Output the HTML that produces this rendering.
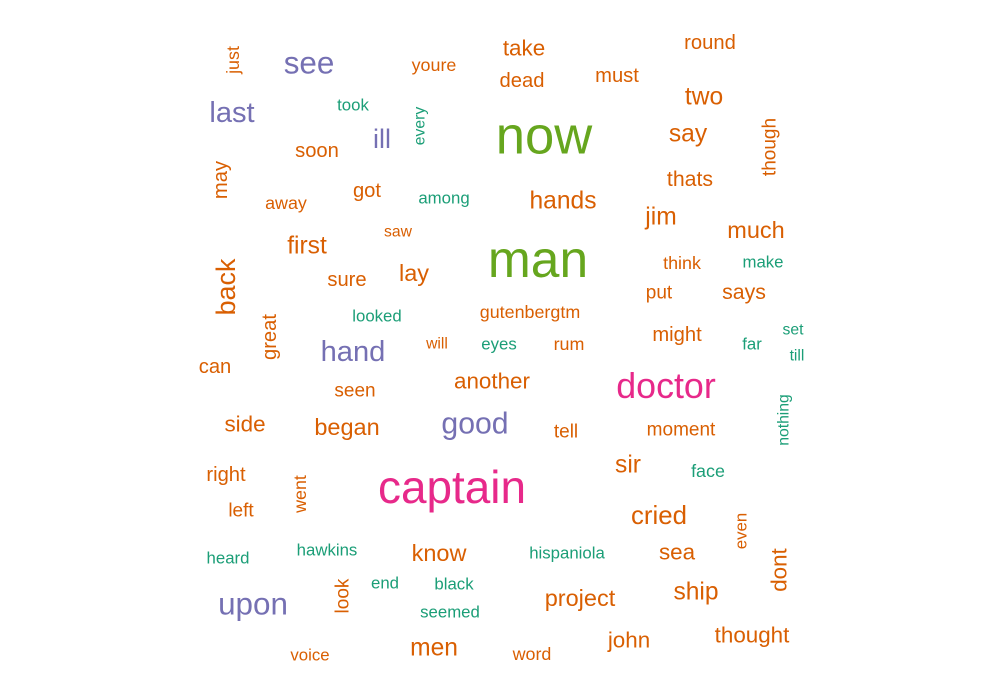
<!DOCTYPE html>
<html>
<head>
<meta charset="utf-8">
<style>
html,body{margin:0;padding:0;background:#fff;}
svg{display:block;}
text{font-family:"Liberation Sans",Arial,sans-serif;}
</style>
</head>
<body>
<svg id="cloud" width="1000" height="693" xmlns="http://www.w3.org/2000/svg"></svg>
<script>
// word cloud data
const words = ["just","see","youre","take","round","dead","must","two","last","took","every","now","say","though","ill","soon","may","thats","got","away","among","hands","jim","much","first","saw","man","back","think","make","lay","sure","put","says","gutenbergtm","looked","great","might","set","hand","will","eyes","rum","far","till","can","seen","another","doctor","nothing","side","began","good","tell","moment","sir","face","right","went","captain","left","cried","even","heard","hawkins","know","hispaniola","sea","dont","end","black","look","upon","project","ship","seemed","john","thought","men","voice","word"];
const freqs = [16,28,16,20,18,18,18,22,26,15,14,47,22,17,24,18,18,19,18,16,15,22,22,21,22,14,46,24,16,15,21,18,17,19,16,15,18,18,14,26,14,15,16,15,14,18,17,20,32,14,20,21,27,17,17,22,16,18,16,41,17,23,15,15,15,21,15,20,20,15,15,17,28,21,22,15,20,20,22,15,16];
const groups = ["o","p","o","o","o","o","o","o","p","t","t","g","o","o","p","o","o","o","o","o","t","o","o","o","o","o","g","o","o","t","o","o","o","o","o","t","o","o","t","p","o","t","o","t","t","o","o","o","k","t","o","o","p","o","o","o","t","o","o","k","o","o","o","t","t","o","t","o","o","t","t","o","p","o","o","t","o","o","o","o","o"];
// layout (positions, rotation)
const layout = [[233,60,1],[309,63,0],[434,65,0],[524,48,0],[710,43,0],[522,81,0],[617,76,0],[704,97,0],[232,113,0],[353,105,0],[420,126,1],[544,136,0],[688,134,0],[770,147,1],[382,139,0],[317,151,0],[221,180,1],[690,179,0],[367,191,0],[286,203,0],[444,198,0],[563,201,0],[661,217,0],[756,230,0],[307,246,0],[398,232,0],[538,259,0],[226,287,1],[682,263,0],[763,262,0],[414,273,0],[347,280,0],[659,293,0],[744,292,0],[530,312,0],[377,316,0],[270,337,1],[677,335,0],[793,330,0],[353,352,0],[437,344,0],[499,344,0],[569,344,0],[752,344,0],[797,356,0],[215,367,0],[355,391,0],[492,381,0],[666,386,0],[784,420,1],[245,424,0],[347,427,0],[475,424,0],[566,432,0],[681,430,0],[628,465,0],[708,471,0],[226,475,0],[300,494,1],[452,487,0],[241,511,0],[659,516,0],[741,531,1],[228,558,0],[327,550,0],[439,553,0],[567,553,0],[677,552,0],[779,570,1],[385,583,0],[454,584,0],[343,596,1],[253,604,0],[580,598,0],[696,592,0],[450,612,0],[629,640,0],[752,635,0],[434,648,0],[310,655,0],[532,654,0]];
const palette = {o:"#d95f02",p:"#7570b3",t:"#1b9e77",g:"#66a61e",k:"#e7298a"};
const fontScale = 1.12;
const svg = document.getElementById('cloud');
const NS = "http://www.w3.org/2000/svg";
words.forEach((w,i)=>{
  const [x,y,r] = layout[i];
  const t = document.createElementNS(NS,'text');
  
  
  t.setAttribute('x', x);
  t.setAttribute('y', y);
  t.setAttribute('text-anchor','middle');
  t.setAttribute('dominant-baseline','central');
  t.setAttribute('font-size', (freqs[i]*fontScale).toFixed(1));
  t.setAttribute('fill', palette[groups[i]]);
  if (r) t.setAttribute('transform', 'rotate(-90 ' + x + ' ' + y + ')');
  t.textContent = w;
  svg.appendChild(t);
});
</script>
</body>
</html>
